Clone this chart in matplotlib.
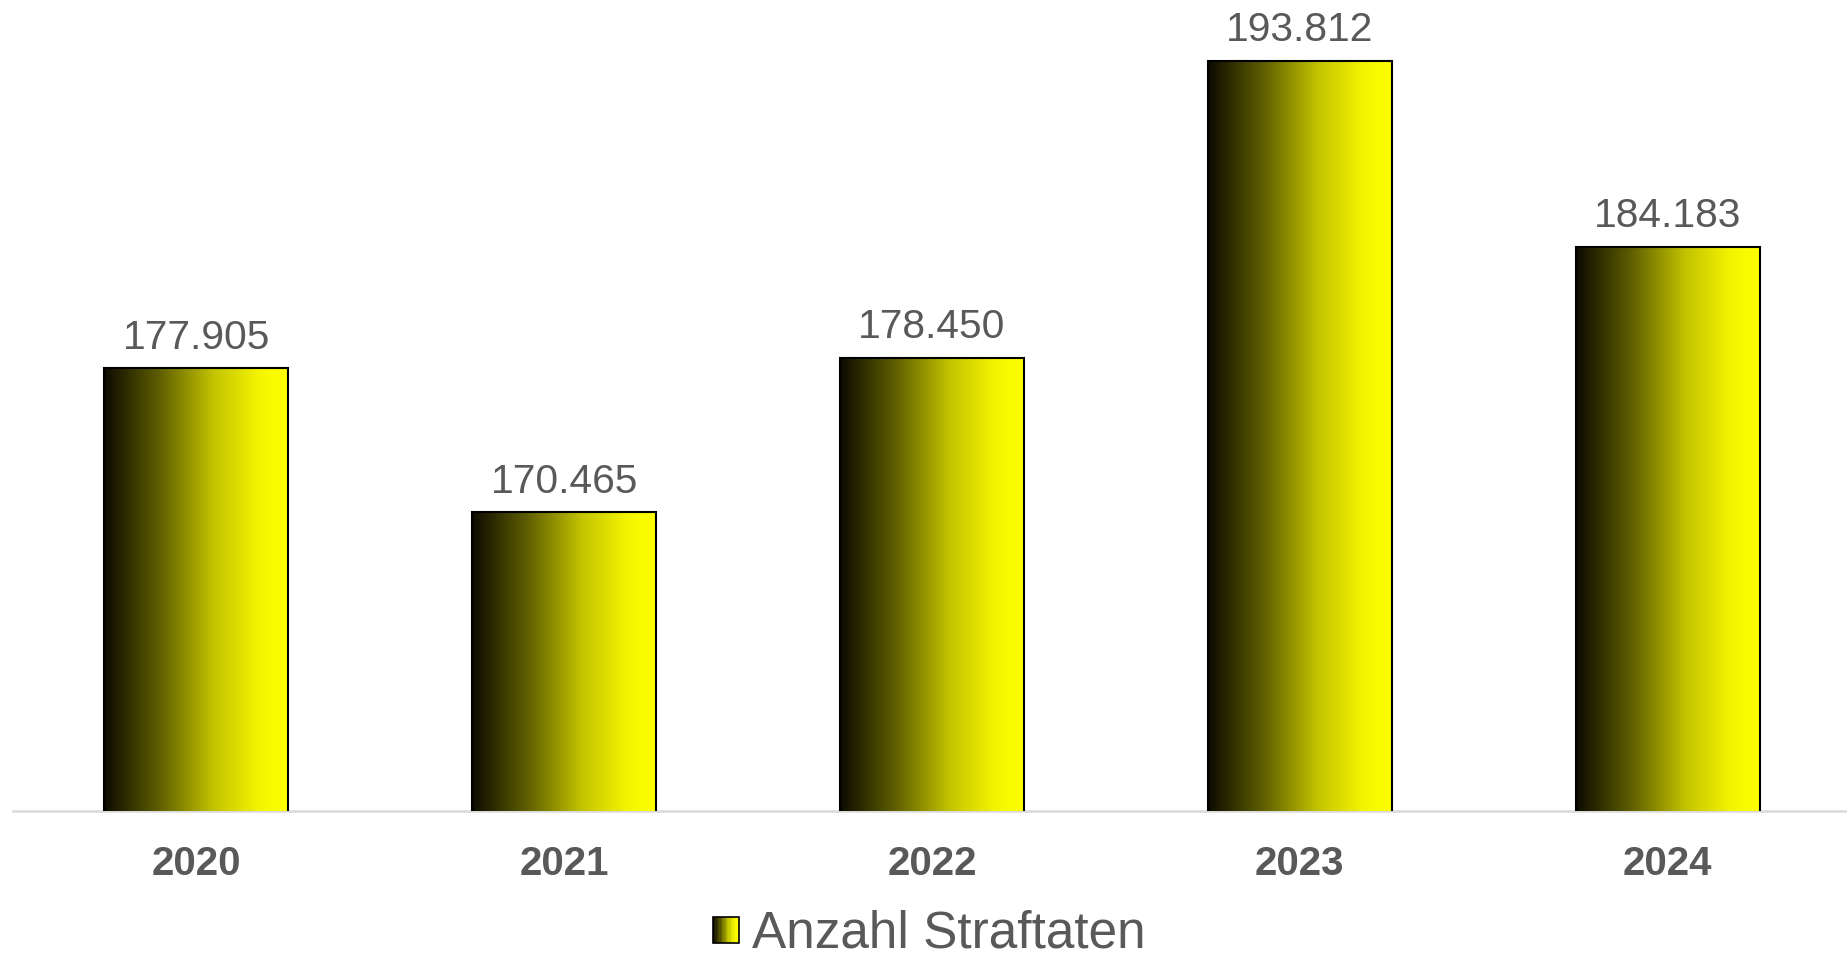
import numpy as np
import matplotlib.pyplot as plt
from matplotlib.patches import Rectangle
from matplotlib.legend_handler import HandlerBase
from matplotlib.colors import LinearSegmentedColormap

# data
years = ["2020", "2021", "2022", "2023", "2024"]
straftaten = [177905, 170465, 178450, 193812, 184183]
series_name = "Anzahl Straftaten"

plt.rcParams['font.family'] = ['Liberation Sans', 'DejaVu Sans']
grey = "#595959"

# black -> yellow gradient (left to right)
cmap = LinearSegmentedColormap.from_list(
    "blk_yel", [(0.0, "#0d0b00"), (0.3, "#5e5e00"), (0.6, "#c4c400"), (0.85, "#f5f500"), (1.0, "#ffff00")])


class GradientHandler(HandlerBase):
    # legend key drawn as thin vertical strips
    def create_artists(self, legend, orig_handle, xdescent, ydescent, width, height, fontsize, trans):
        size = height * 0.72
        x0 = -xdescent + width - size
        y0 = -ydescent + (height - size) / 2 - 1
        n = 20
        arts = []
        for i in range(n):
            arts.append(Rectangle((x0 + i * size / n, y0), size / n + 0.3, size,
                                  facecolor=cmap(i / (n - 1)), edgecolor="none", transform=trans))
        arts.append(Rectangle((x0, y0), size, size, facecolor="none", edgecolor="black",
                              linewidth=1.2, transform=trans))
        return arts


fig = plt.figure(figsize=(18.47, 9.62), dpi=100)
ax = fig.add_axes([12.5 / 1847, 150 / 962, 1839 / 1847, 1 - 150 / 962])

x = np.arange(len(years))
bars = ax.bar(x, straftaten, width=0.5, facecolor="none", edgecolor="black", linewidth=1.5, zorder=3)

ax.set_xlim(-0.5, 4.5)
ax.set_ylim(155000, 197000)

grad = np.linspace(0, 1, 256).reshape(1, -1)
for b in bars:
    x0, y0 = b.get_x(), 155000
    im = ax.imshow(grad, cmap=cmap, aspect="auto", zorder=2,
                   extent=[x0, x0 + b.get_width(), y0, b.get_height()])
    im.set_clip_path(b)

ax.bar_label(bars, labels=[f"{v:,.0f}".replace(",", ".") for v in straftaten],
             padding=9, fontsize=29.3, color=grey)

ax.set_xticks(x)
ax.set_xticklabels(years, fontsize=29, fontweight="bold", color=grey)
ax.tick_params(axis="x", length=0, pad=24)
ax.set_yticks([])
for s in ["top", "left", "right"]:
    ax.spines[s].set_visible(False)
ax.spines["bottom"].set_color("#d9d9d9")
ax.spines["bottom"].set_linewidth(1.8)
ax.spines["bottom"].set_zorder(1)

proxy = Rectangle((0, 0), 1, 1)
fig.legend([proxy], [series_name], handler_map={Rectangle: GradientHandler()},
           loc="center", bbox_to_anchor=(0.5, 1 - 934 / 962), frameon=False,
           fontsize=37, labelcolor=grey, handlelength=0.72, handletextpad=0.25,
           borderpad=0.1)

fig.savefig("out.png", dpi=100)
